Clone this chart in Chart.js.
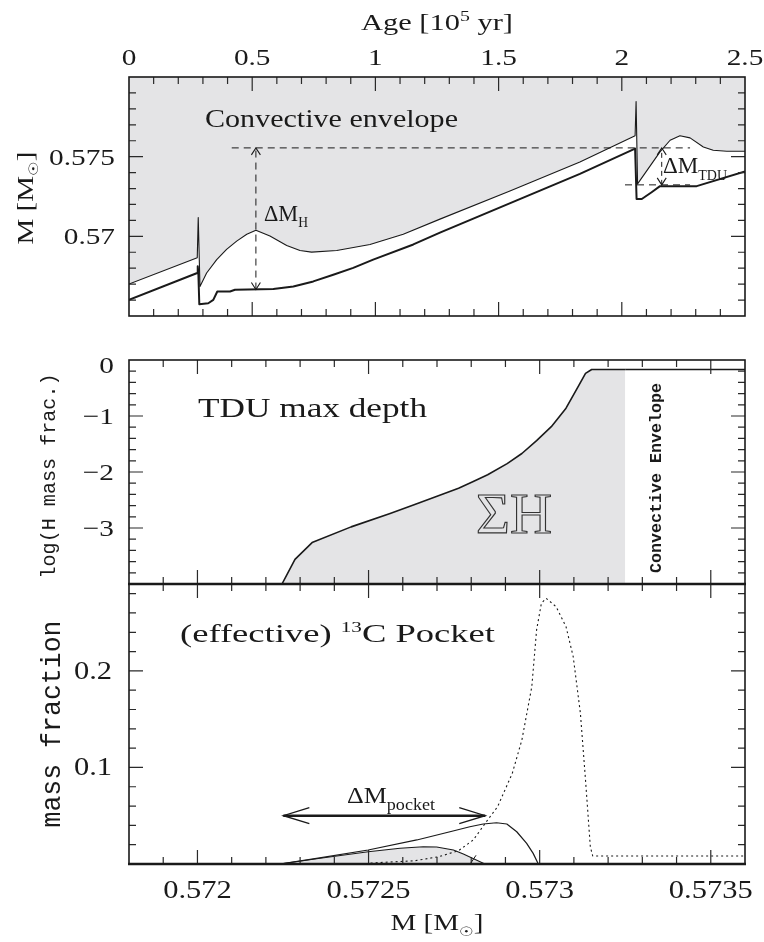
<!DOCTYPE html>
<html>
<head>
<meta charset="utf-8">
<script src="https://cdn.jsdelivr.net/npm/chart.js@4.4.1/dist/chart.umd.min.js"></script>
<style>
  html, body { margin: 0; padding: 0; background: #fff; }
  #wrap { position: relative; width: 764px; height: 942px; }
  canvas { position: absolute; left: 0; top: 0; }
</style>
</head>
<body>
<div id="wrap">
  <canvas id="cTop" width="764" height="942"></canvas>
  <canvas id="cMid" width="764" height="942"></canvas>
  <canvas id="cBot" width="764" height="942"></canvas>
</div>
<script>
// ---------- top panel: mass coordinates versus age (10^5 yr) ----------
const envAge  = [0, 0.277, 0.281, 0.288, 0.315, 0.356, 0.396, 0.437, 0.478, 0.515, 0.572, 0.640, 0.694, 0.741, 0.843, 0.978, 1.113, 1.262, 1.546, 1.830, 2.054, 2.058, 2.064, 2.155, 2.196, 2.236, 2.277, 2.331, 2.371, 2.426, 2.5];
const envMass = [0.56701, 0.56865, 0.57118, 0.56685, 0.56770, 0.56854, 0.56918, 0.56970, 0.57013, 0.57038, 0.57002, 0.56943, 0.56911, 0.56901, 0.56911, 0.56949, 0.57013, 0.57108, 0.57285, 0.57466, 0.57631, 0.57846, 0.57329, 0.57530, 0.57603, 0.57631, 0.57618, 0.57561, 0.57540, 0.57534, 0.57534];

const coreAge  = [0, 0.277, 0.279, 0.2815, 0.2853, 0.3218, 0.3421, 0.3584, 0.4099, 0.4302, 0.5856, 0.667, 0.748, 0.829, 0.910, 0.991, 1.154, 1.262, 1.830, 2.054, 2.057, 2.060, 2.081, 2.121, 2.155, 2.304, 2.5];
const coreMass = [0.56601, 0.56770, 0.56812, 0.56770, 0.56574, 0.56580, 0.56601, 0.56654, 0.56654, 0.56665, 0.56669, 0.56685, 0.56717, 0.56759, 0.56802, 0.56854, 0.56949, 0.57023, 0.57392, 0.57551, 0.57551, 0.57234, 0.57234, 0.57277, 0.57315, 0.57315, 0.57407];

const dashHighAge = [0.417, 2.277];
const dashHighMass = 0.57555;
const dashLowAge = [2.013, 2.277];
const dashLowMass = 0.57323;
const dMHAge = 0.515;
const dMHMass = [0.56666, 0.57555];
const dMTduAge = 2.162;
const dMTduMass = [0.57323, 0.57555];

const ageTicks = [0, 0.5, 1, 1.5, 2, 2.5];
const ageLabels = ['0', '0.5', '1', '1.5', '2', '2.5'];
const massTopTicks = [0.57, 0.575];
const massTopLabels = ['0.57', '0.575'];

// ---------- middle panel: log H mass fraction at maximum TDU depth ----------
const hMass = [0.572247, 0.572285, 0.572335, 0.572449, 0.572563, 0.572635, 0.572706, 0.572763, 0.572806, 0.572848, 0.572905, 0.572948, 0.572991, 0.573034, 0.573077, 0.573112, 0.573134, 0.573152, 0.57325];
const hLog  = [-4, -3.56, -3.26, -2.98, -2.74, -2.58, -2.42, -2.29, -2.17, -2.05, -1.85, -1.67, -1.44, -1.19, -0.86, -0.48, -0.24, -0.17, -0.17];
const envMidMass = [0.57325, 0.5736];
const envMidLog = -0.17;
const logTicks = [0, -1, -2, -3];
const logLabels = ['0', '\u22121', '\u22122', '\u22123'];

// ---------- bottom panel: 13C pocket mass fractions ----------
const pocketInM = [0.572241, 0.572348, 0.572499, 0.572592, 0.572660, 0.572699, 0.572748, 0.572777, 0.572840];
const pocketInX = [0, 0.0054, 0.0127, 0.0163, 0.0179, 0.0176, 0.0145, 0.0104, 0];
const kinkM = [0.572797, 0.572814];
const kinkX = [0, 0.0090];
const pocketOutM = [0.572241, 0.572348, 0.572499, 0.572641, 0.572738, 0.572796, 0.572835, 0.572874, 0.572904, 0.572933, 0.572962, 0.572981, 0.572996];
const pocketOutX = [0, 0.0059, 0.0145, 0.0249, 0.0334, 0.0386, 0.0414, 0.0427, 0.0414, 0.0334, 0.0214, 0.0110, 0];
const c13M = [0.572506, 0.572635, 0.572706, 0.572763, 0.572806, 0.572848, 0.572877, 0.572920, 0.572948, 0.572977, 0.572991, 0.573005, 0.573019, 0.573048, 0.573077, 0.573098, 0.573119, 0.573134, 0.573148, 0.573155, 0.5736];
const c13X = [0.001, 0.0034, 0.0076, 0.0138, 0.0249, 0.0456, 0.0593, 0.0939, 0.1284, 0.1836, 0.2424, 0.2700, 0.2752, 0.2665, 0.2458, 0.2147, 0.1561, 0.0870, 0.0179, 0.0083, 0.0083];
const pocketArrowM = [0.572251, 0.572841];
const pocketArrowX = 0.05;
const fracTicks = [0.1, 0.2];
const fracLabels = ['0.1', '0.2'];
const massTicks = [0.572, 0.5725, 0.573, 0.5735];
const massLabels = ['0.572', '0.5725', '0.573', '0.5735'];

// ---------- drawing helpers ----------
const INK = '#1a1a1a';
const GRAY = 'rgb(228,228,230)';
const SERIF = '"Liberation Serif", "DejaVu Serif", serif';
const MONO = '"Liberation Mono", "DejaVu Sans Mono", monospace';
const SX = 1.22;

function steps(lo, hi, step) {
  const out = [];
  const n = Math.round((hi - lo) / step);
  for (let i = 0; i <= n; i++) out.push(+(lo + i * step).toFixed(7));
  return out;
}

function series(xs, ys) {
  return xs.map((v, i) => ({ x: v, y: Array.isArray(ys) ? ys[i] : ys }));
}

function lineDS(xs, ys, extra) {
  return Object.assign({
    data: series(xs, ys), borderColor: INK, borderWidth: 1.2,
    pointRadius: 0, fill: false, tension: 0, borderJoinStyle: 'round'
  }, extra || {});
}

// mixed-size text runs, stretched horizontally to a width or by a factor
function runs(ctx, parts, x, y, o) {
  ctx.save();
  let total = 0;
  const ws = parts.map(p => {
    ctx.font = (p.weight ? p.weight + ' ' : '') + p.size + 'px ' + (p.family || SERIF);
    const w = ctx.measureText(p.t).width;
    total += w;
    return w;
  });
  const sx = o.width ? o.width / total : (o.sx || 1);
  ctx.translate(x, y);
  if (o.rot) ctx.rotate(o.rot);
  ctx.scale(sx, 1);
  let cx = o.align === 'center' ? -total / 2 : (o.align === 'right' ? -total : 0);
  ctx.fillStyle = o.color || INK;
  ctx.textBaseline = 'alphabetic';
  parts.forEach((p, i) => {
    ctx.font = (p.weight ? p.weight + ' ' : '') + p.size + 'px ' + (p.family || SERIF);
    if (o.stroke) {
      ctx.strokeStyle = o.color || INK;
      ctx.lineWidth = o.stroke;
      ctx.strokeText(p.t, cx, p.dy || 0);
    } else {
      ctx.fillText(p.t, cx, p.dy || 0);
    }
    cx += ws[i];
  });
  ctx.restore();
}

function label(ctx, s, x, y, size, o) {
  runs(ctx, [{ t: s, size: size, family: o.family, weight: o.weight }], x, y, o);
}

// inward tick marks on all four sides plus the frame
function frameAndTicks(chart, t) {
  const { ctx, chartArea: a, scales: { x, y } } = chart;
  ctx.save();
  ctx.strokeStyle = '#2a2a2a';
  ctx.lineWidth = 1.2;
  ctx.beginPath();
  const xs = (vals, len) => vals.forEach(v => {
    const p = x.getPixelForValue(v);
    if (p <= a.left + 0.5 || p >= a.right - 0.5) return;
    ctx.moveTo(p, a.top); ctx.lineTo(p, a.top + len);
    ctx.moveTo(p, a.bottom); ctx.lineTo(p, a.bottom - len);
  });
  const ys = (vals, len) => vals.forEach(v => {
    const p = y.getPixelForValue(v);
    if (p <= a.top + 0.5 || p >= a.bottom - 0.5) return;
    ctx.moveTo(a.left, p); ctx.lineTo(a.left + len, p);
    ctx.moveTo(a.right, p); ctx.lineTo(a.right - len, p);
  });
  xs(t.xMinor, 7); xs(t.xMajor, 14);
  ys(t.yMinor, 7); ys(t.yMajor, 14);
  ctx.stroke();
  ctx.strokeStyle = INK;
  ctx.lineWidth = 1.6;
  ctx.strokeRect(a.left, a.top, a.right - a.left, a.bottom - a.top);
  if (t.thickBottom) {
    ctx.lineWidth = 2.6;
    ctx.beginPath();
    ctx.moveTo(a.left - 1, a.bottom); ctx.lineTo(a.right + 1, a.bottom);
    ctx.stroke();
  }
  ctx.restore();
}

function vHead(ctx, px, py, dir, w, h) {
  ctx.beginPath();
  ctx.moveTo(px - w, py - dir * h);
  ctx.lineTo(px, py);
  ctx.lineTo(px + w, py - dir * h);
  ctx.stroke();
}
function hHead(ctx, px, py, dir, len, half) {
  ctx.beginPath();
  ctx.moveTo(px - dir * len, py - half);
  ctx.lineTo(px, py);
  ctx.lineTo(px - dir * len, py + half);
  ctx.stroke();
}

function baseOptions(pad, xr, yr) {
  return {
    responsive: false, maintainAspectRatio: false, animation: false, events: [],
    layout: { padding: pad },
    plugins: {
      legend: { display: false }, tooltip: { enabled: false },
      filler: { drawTime: 'beforeDatasetsDraw' }
    },
    scales: {
      x: { type: 'linear', min: xr[0], max: xr[1], display: false },
      y: { type: 'linear', min: yr[0], max: yr[1], display: false }
    }
  };
}

// ---------- top chart ----------
const topDecor = {
  id: 'topDecor',
  afterDatasetsDraw(chart) {
    const { ctx, scales: { x, y } } = chart;
    frameAndTicks(chart, {
      xMinor: steps(0, 2.5, 0.1), xMajor: ageTicks,
      yMinor: steps(0.565, 0.58, 0.001), yMajor: massTopTicks
    });
    ageTicks.forEach((v, i) => label(ctx, ageLabels[i], x.getPixelForValue(v), 65, 24, { align: 'center', sx: SX }));
    massTopTicks.forEach((v, i) => label(ctx, massTopLabels[i], 115, y.getPixelForValue(v) + 8, 24, { align: 'right', sx: SX }));
    runs(ctx, [{ t: 'Age [10', size: 23 }, { t: '5', size: 15, dy: -9 }, { t: ' yr]', size: 23 }], 437, 30, { align: 'center', width: 152 });
    runs(ctx, [{ t: 'M [M', size: 23 }, { t: '\u2609', size: 13, dy: 5, family: '"DejaVu Sans", sans-serif' }, { t: ']', size: 23 }], 33, 198, { rot: -Math.PI / 2, align: 'center', width: 93 });
    label(ctx, 'Convective envelope', 205, 127, 26, { width: 253 });

    // double-headed arrows for the two mass intervals
    ctx.save();
    ctx.strokeStyle = INK;
    ctx.lineWidth = 1.1;
    const hx = x.getPixelForValue(dMHAge);
    vHead(ctx, hx, y.getPixelForValue(dMHMass[1]), -1, 4.5, 7);
    vHead(ctx, hx, y.getPixelForValue(dMHMass[0]), 1, 4.5, 7);
    const tx = x.getPixelForValue(dMTduAge);
    vHead(ctx, tx, y.getPixelForValue(dMTduMass[1]), -1, 4.5, 7);
    vHead(ctx, tx, y.getPixelForValue(dMTduMass[0]), 1, 4.5, 7);
    ctx.restore();
    runs(ctx, [{ t: '\u0394M', size: 23 }, { t: 'H', size: 14, dy: 6 }], 264, 221, { width: 44 });
    runs(ctx, [{ t: '\u0394M', size: 23 }, { t: 'TDU', size: 14, dy: 7 }], 663, 173, { width: 64 });
  }
};

new Chart(document.getElementById('cTop'), {
  type: 'line',
  data: {
    datasets: [
      lineDS(envAge, envMass, { fill: 'end', backgroundColor: GRAY, borderWidth: 1.1 }),
      lineDS(coreAge, coreMass, { borderWidth: 2 }),
      lineDS(dashHighAge, dashHighMass, { borderWidth: 1, borderDash: [7, 5] }),
      lineDS(dashLowAge, dashLowMass, { borderWidth: 1, borderDash: [7, 5] }),
      lineDS([dMHAge, dMHAge], dMHMass, { borderWidth: 1, borderDash: [7, 5] }),
      lineDS([dMTduAge, dMTduAge], dMTduMass, { borderWidth: 1, borderDash: [5, 4] })
    ]
  },
  options: baseOptions({ left: 129, right: 19, top: 77, bottom: 942 - 316 }, [0, 2.5], [0.565, 0.58]),
  plugins: [topDecor]
});

// ---------- middle chart ----------
const midDecor = {
  id: 'midDecor',
  afterDatasetsDraw(chart) {
    const { ctx, chartArea: a, scales: { y } } = chart;
    frameAndTicks(chart, {
      xMinor: steps(0.5718, 0.5736, 0.0001), xMajor: massTicks,
      yMinor: steps(-4, 0, 0.2), yMajor: logTicks, thickBottom: true
    });
    logTicks.forEach((v, i) => {
      const py = Math.max(y.getPixelForValue(v), a.top + 5);
      label(ctx, logLabels[i], 114, py + 8, 24, { align: 'right', sx: SX });
    });
    label(ctx, 'log(H mass frac.)', 55, 476, 20, { family: MONO, rot: -Math.PI / 2, align: 'center', width: 205 });
    label(ctx, 'TDU max depth', 198, 417, 27, { width: 229 });
    runs(ctx, [{ t: '\u03A3H', size: 56 }], 476, 533, { width: 76, stroke: 1.1, color: '#333' });
    label(ctx, 'Convective Envelope', 661, 478, 16, { family: MONO, weight: 'bold', rot: -Math.PI / 2, align: 'center', width: 190 });
  }
};

new Chart(document.getElementById('cMid'), {
  type: 'line',
  data: {
    datasets: [
      lineDS(hMass, hLog, { fill: 'start', backgroundColor: GRAY, borderWidth: 1.6 }),
      lineDS(envMidMass, envMidLog, { borderWidth: 1.6 })
    ]
  },
  options: baseOptions({ left: 129, right: 19, top: 360, bottom: 942 - 584 }, [0.5718, 0.5736], [-4, 0]),
  plugins: [midDecor]
});

// ---------- bottom chart ----------
const botDecor = {
  id: 'botDecor',
  afterDatasetsDraw(chart) {
    const { ctx, scales: { x, y } } = chart;
    frameAndTicks(chart, {
      xMinor: steps(0.5718, 0.5736, 0.0001), xMajor: massTicks,
      yMinor: steps(0, 0.28, 0.02), yMajor: fracTicks, thickBottom: true
    });
    fracTicks.forEach((v, i) => label(ctx, fracLabels[i], 112, y.getPixelForValue(v) + 8, 25, { align: 'right', sx: SX }));
    massTicks.forEach((v, i) => label(ctx, massLabels[i], x.getPixelForValue(v), 898, 25, { align: 'center', sx: SX }));
    runs(ctx, [{ t: 'M [M', size: 23 }, { t: '\u2609', size: 13, dy: 6, family: '"DejaVu Sans", sans-serif' }, { t: ']', size: 23 }], 437, 930, { align: 'center', width: 93 });
    label(ctx, 'mass fraction', 60, 724, 27, { family: MONO, rot: -Math.PI / 2, align: 'center', width: 207 });
    runs(ctx, [{ t: '(effective) ', size: 26 }, { t: '13', size: 15, dy: -10 }, { t: 'C Pocket', size: 26 }], 180, 642, { width: 315 });
    runs(ctx, [{ t: '\u0394M', size: 23 }, { t: 'pocket', size: 16, dy: 7 }], 347, 803, { width: 88 });

    ctx.save();
    ctx.strokeStyle = INK;
    ctx.lineWidth = 1.3;
    const ay = y.getPixelForValue(pocketArrowX);
    hHead(ctx, x.getPixelForValue(pocketArrowM[0]), ay, -1, 26, 8);
    hHead(ctx, x.getPixelForValue(pocketArrowM[1]), ay, 1, 26, 8);
    ctx.restore();
  }
};

new Chart(document.getElementById('cBot'), {
  type: 'line',
  data: {
    datasets: [
      lineDS(pocketInM, pocketInX, { fill: 'origin', backgroundColor: GRAY, borderWidth: 1.1 }),
      lineDS(kinkM, kinkX, { borderWidth: 1 }),
      lineDS(pocketOutM, pocketOutX, { borderWidth: 1.2 }),
      lineDS(c13M, c13X, { borderWidth: 1.1, borderDash: [2, 3] }),
      lineDS(pocketArrowM, pocketArrowX, { borderWidth: 2.6 })
    ]
  },
  options: baseOptions({ left: 129, right: 19, top: 584, bottom: 942 - 864 }, [0.5718, 0.5736], [0, 0.29]),
  plugins: [botDecor]
});
</script>
</body>
</html>
